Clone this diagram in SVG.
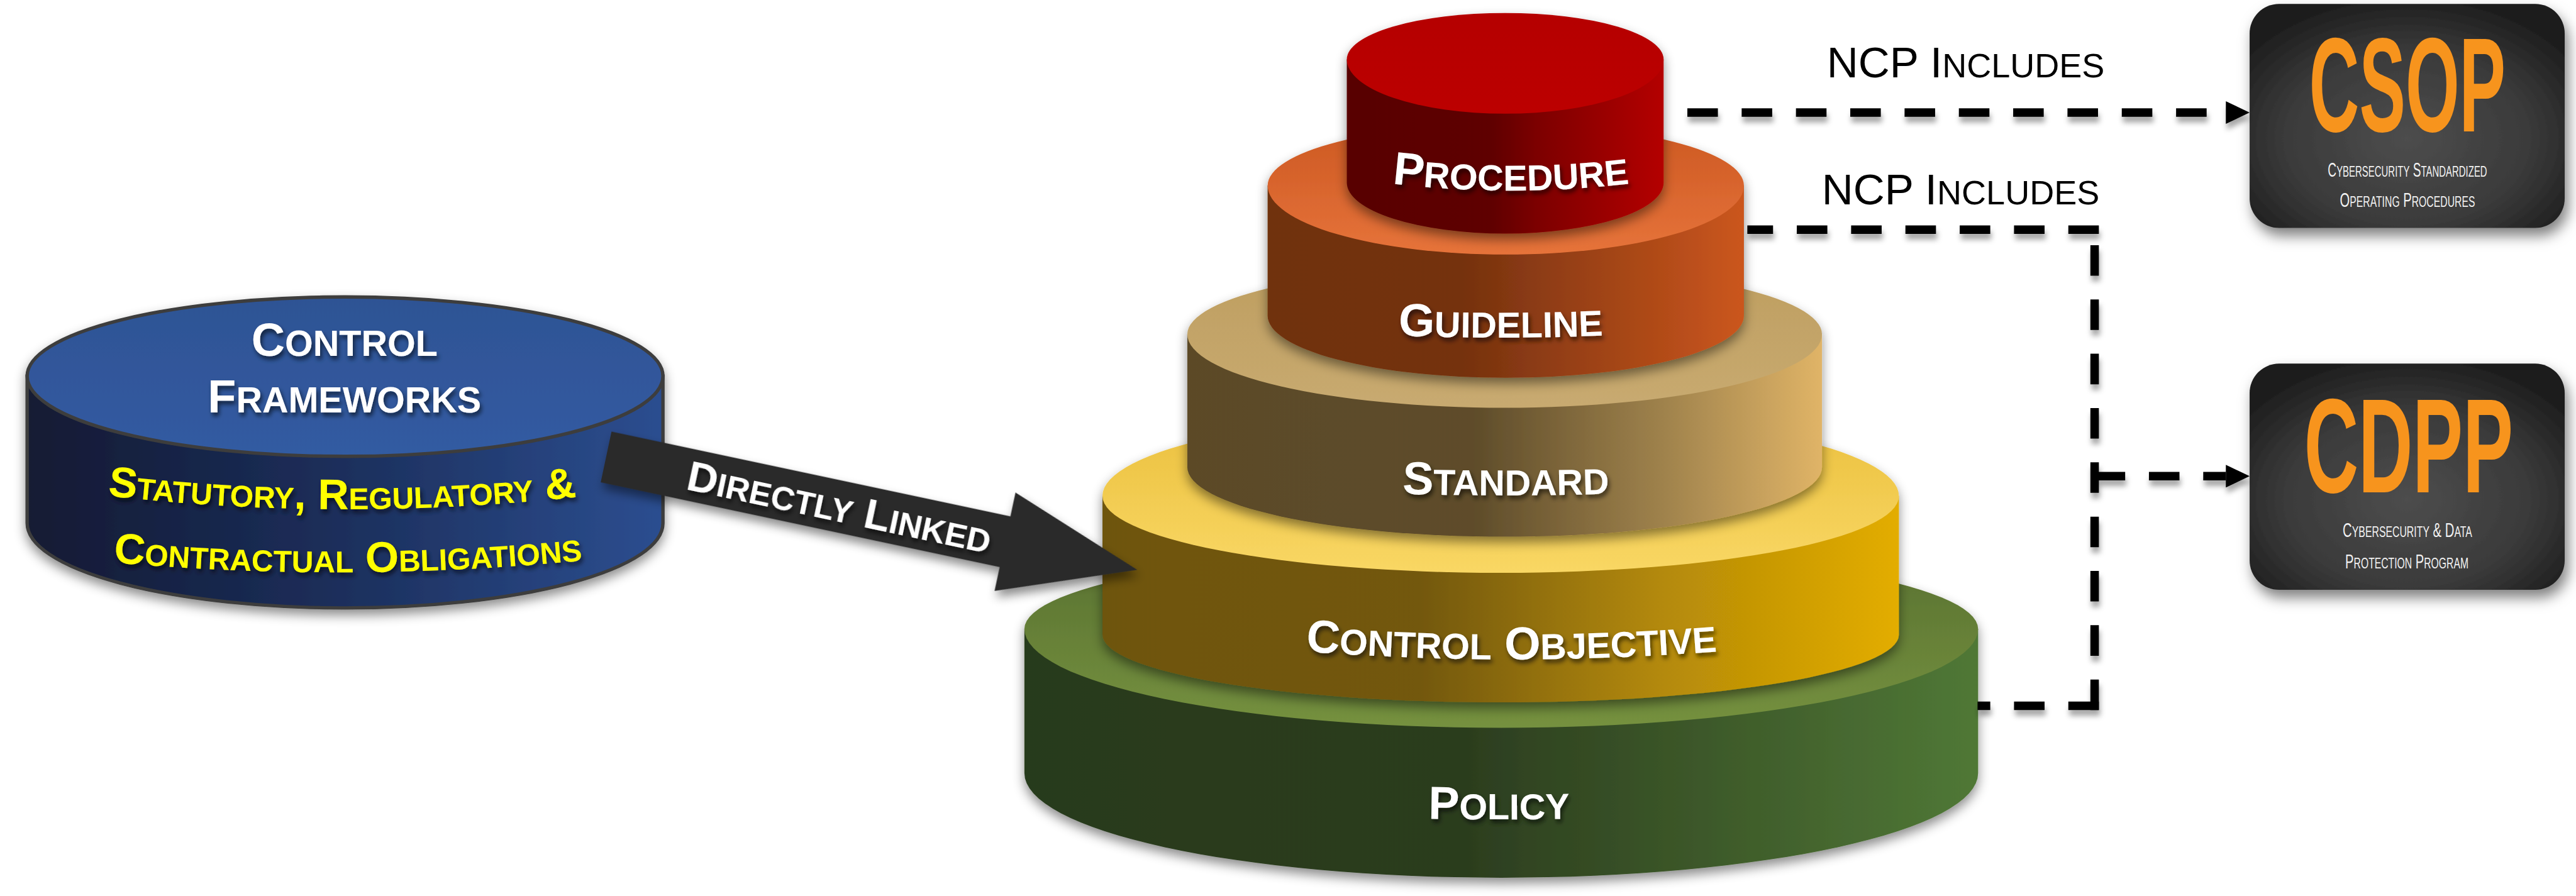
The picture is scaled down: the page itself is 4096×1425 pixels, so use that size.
<svg xmlns="http://www.w3.org/2000/svg" width="4096" height="1425" viewBox="0 0 4096 1425">
<style>
.lbl{font-family:"Liberation Sans",Arial,Helvetica,sans-serif;font-weight:bold;fill:#ffffff;}
.yel{fill:#FFFF00;font-variant:small-caps;}
.sc{font-size:78%;}
.ncp{font-family:"Liberation Sans",Arial,Helvetica,sans-serif;font-size:77px;fill:#000000;}
.big{font-family:"Liberation Sans",Arial,sans-serif;font-weight:bold;fill:#F7941D;font-size:237px;}
.sub{font-family:"Liberation Sans",Arial,sans-serif;fill:#F2F2F2;font-size:35px;}
.dash{fill:none;stroke:#000000;stroke-width:15;stroke-dasharray:54 42;}
</style>
<defs>
<linearGradient id="sideRed" x1="0" y1="0" x2="1" y2="0"><stop offset="0" stop-color="#580000"/><stop offset="0.45" stop-color="#5E0000"/><stop offset="0.6" stop-color="#7C0000"/><stop offset="1" stop-color="#B40000"/></linearGradient>
<linearGradient id="topRed" x1="0" y1="0" x2="0" y2="1"><stop offset="0" stop-color="#B50000"/><stop offset="1" stop-color="#BC0004"/></linearGradient>
<linearGradient id="sideOrg" x1="0" y1="0" x2="1" y2="0"><stop offset="0" stop-color="#70300E"/><stop offset="0.4" stop-color="#74310F"/><stop offset="1" stop-color="#CB561D"/></linearGradient>
<linearGradient id="topOrg" x1="0" y1="0" x2="0" y2="1"><stop offset="0" stop-color="#CC5822"/><stop offset="1" stop-color="#E6733A"/></linearGradient>
<linearGradient id="sideTan" x1="0" y1="0" x2="1" y2="0"><stop offset="0" stop-color="#5B4A28"/><stop offset="0.45" stop-color="#5E4C2A"/><stop offset="0.75" stop-color="#9F824C"/><stop offset="1" stop-color="#E0B467"/></linearGradient>
<linearGradient id="topTan" x1="0" y1="0" x2="0" y2="1"><stop offset="0" stop-color="#BE9E60"/><stop offset="1" stop-color="#C8AA70"/></linearGradient>
<linearGradient id="sideYel" x1="0" y1="0" x2="1" y2="0"><stop offset="0" stop-color="#6E540F"/><stop offset="0.4" stop-color="#735810"/><stop offset="0.7" stop-color="#B38908"/><stop offset="1" stop-color="#E3AD02"/></linearGradient>
<linearGradient id="topYel" x1="0" y1="0" x2="0" y2="1"><stop offset="0" stop-color="#EABF3C"/><stop offset="1" stop-color="#F9D764"/></linearGradient>
<linearGradient id="sideGrn" x1="0" y1="0" x2="1" y2="0"><stop offset="0" stop-color="#283A1D"/><stop offset="0.45" stop-color="#2B3C1E"/><stop offset="1" stop-color="#507836"/></linearGradient>
<linearGradient id="topGrn" x1="0" y1="0" x2="0" y2="1"><stop offset="0" stop-color="#587030"/><stop offset="1" stop-color="#75913F"/></linearGradient>
<linearGradient id="sideBlu" x1="0" y1="0" x2="1" y2="0"><stop offset="0" stop-color="#121A33"/><stop offset="0.5" stop-color="#1C2F5C"/><stop offset="1" stop-color="#2C4E90"/></linearGradient>
<linearGradient id="topBlu" x1="0" y1="0" x2="0" y2="1"><stop offset="0" stop-color="#2E5394"/><stop offset="1" stop-color="#335BA2"/></linearGradient>
<radialGradient id="boxG" cx="0.5" cy="0.6" r="0.65"><stop offset="0" stop-color="#4D4D4D"/><stop offset="0.6" stop-color="#3A3A3A"/><stop offset="1" stop-color="#1C1C1C"/></radialGradient>
<filter id="cs" x="-10%" y="-15%" width="120%" height="140%"><feDropShadow dx="0" dy="10" stdDeviation="10" flood-color="#000" flood-opacity="0.45"/></filter>
<filter id="ts" x="-10%" y="-40%" width="120%" height="180%"><feDropShadow dx="3" dy="6" stdDeviation="4" flood-color="#000" flood-opacity="0.6"/></filter>
<filter id="as" x="-10%" y="-30%" width="125%" height="160%"><feDropShadow dx="6" dy="10" stdDeviation="9" flood-color="#000" flood-opacity="0.45"/></filter>
<filter id="bs" x="-10%" y="-10%" width="125%" height="130%"><feDropShadow dx="6" dy="14" stdDeviation="12" flood-color="#000" flood-opacity="0.5"/></filter>
<filter id="ls" filterUnits="userSpaceOnUse" x="0" y="0" width="4554" height="1584"><feDropShadow dx="2" dy="10" stdDeviation="5" flood-color="#000" flood-opacity="0.35"/></filter>
<marker id="ah" markerUnits="userSpaceOnUse" markerWidth="42" markerHeight="40" refX="0" refY="20" orient="auto"><path d="M0,0 L42,20 L0,40 Z" fill="#000"/></marker>
<path id="yl1" d="M150,872 Q605,928 1060,874"/>
<path id="yl2" d="M150,990 Q615,1036 1080,986"/>
<path id="procPath" d="M2430,321 Q2671,353 2912,321"/>
<path id="guidePath" d="M2420,591 Q2653,603 2886,591"/>
<path id="stdPath" d="M2420,871 Q2662,881 2904,871"/>
<path id="coPath" d="M2260,1148 Q2672,1184 3084,1148"/>
<path id="polPath" d="M2450,1446 Q2650,1452 2850,1446"/>
</defs>
<rect x="0" y="0" width="4096" height="1425" fill="#ffffff"/>
<g transform="scale(0.89943)">
<g id="control-frameworks" filter="url(#cs)">
<path d="M48,665 V925 A562 150 0 0 0 1172,925 V665 Z" fill="url(#sideBlu)" stroke="#3D3D3D" stroke-width="6"/>
<path d="M48,665 A562 140 0 0 1 1172,665 A562 142 0 0 1 48,665 Z" fill="url(#topBlu)" stroke="#3D3D3D" stroke-width="6"/>
<text class="lbl" x="609" y="629" text-anchor="middle" font-size="82" filter="url(#ts)">C<tspan class="sc">ONTROL</tspan></text>
<text class="lbl" x="609" y="729" text-anchor="middle" font-size="82" filter="url(#ts)">F<tspan class="sc">RAMEWORKS</tspan></text>
<text class="lbl yel" font-size="76" filter="url(#ts)"><textPath href="#yl1" startOffset="50%" text-anchor="middle">Statutory, Regulatory &amp;</textPath></text>
<text class="lbl yel" font-size="76" filter="url(#ts)"><textPath href="#yl2" startOffset="50%" text-anchor="middle">Contractual Obligations</textPath></text>
</g>
<g id="policy" filter="url(#cs)">
<path d="M1811,1112 V1367 A843 185 0 0 0 3497,1367 V1112 Z" fill="url(#sideGrn)"/>
<path d="M1811,1112 A843 145 0 0 1 3497,1112 A843 175 0 0 1 1811,1112 Z" fill="url(#topGrn)"/>
<text class="lbl" font-size="82" filter="url(#ts)"><textPath href="#polPath" startOffset="50%" text-anchor="middle">P<tspan class="sc">OLICY</tspan></textPath></text>
</g>
<g id="control-objective" filter="url(#cs)">
<path d="M1949,877 V1122 A704 120 0 0 0 3357,1122 V877 Z" fill="url(#sideYel)"/>
<path d="M1949,877 A704 150 0 0 1 3357,877 A704 136 0 0 1 1949,877 Z" fill="url(#topYel)"/>
<text class="lbl" font-size="82" filter="url(#ts)"><textPath href="#coPath" startOffset="50%" text-anchor="middle">C<tspan class="sc">ONTROL</tspan> O<tspan class="sc">BJECTIVE</tspan></textPath></text>
</g>
<g id="standard" filter="url(#cs)">
<path d="M2099,591 V826 A561 123 0 0 0 3221,826 V591 Z" fill="url(#sideTan)"/>
<path d="M2099,591 A561 122 0 0 1 3221,591 A561 130 0 0 1 2099,591 Z" fill="url(#topTan)"/>
<text class="lbl" font-size="82" filter="url(#ts)"><textPath href="#stdPath" startOffset="50%" text-anchor="middle">S<tspan class="sc">TANDARD</tspan></textPath></text>
</g>
<g id="guideline" filter="url(#cs)">
<path d="M2241,328 V558 A421 110 0 0 0 3083,558 V328 Z" fill="url(#sideOrg)"/>
<path d="M2241,328 A421 109 0 0 1 3083,328 A421 122 0 0 1 2241,328 Z" fill="url(#topOrg)"/>
<text class="lbl" font-size="82" filter="url(#ts)"><textPath href="#guidePath" startOffset="50%" text-anchor="middle">G<tspan class="sc">UIDELINE</tspan></textPath></text>
</g>
<g id="procedure" filter="url(#cs)">
<path d="M2381,105 V323 A280 90 0 0 0 2941,323 V105 Z" fill="url(#sideRed)"/>
<path d="M2381,105 A280 82 0 0 1 2941,105 A280 96 0 0 1 2381,105 Z" fill="url(#topRed)"/>
<text class="lbl" font-size="82" filter="url(#ts)"><textPath href="#procPath" startOffset="50%" text-anchor="middle">P<tspan class="sc">ROCEDURE</tspan></textPath></text>
</g>
<g id="csop">
<rect x="3977" y="7" width="557" height="396" rx="52" ry="52" fill="url(#boxG)" filter="url(#bs)"/>
<text class="big" text-anchor="middle" transform="translate(4256 232) scale(0.517 1)">CSOP</text>
<text class="sub" text-anchor="middle" transform="translate(4256 312) scale(0.609 1)">C<tspan class="sc">YBERSECURITY</tspan> S<tspan class="sc">TANDARDIZED</tspan></text>
<text class="sub" text-anchor="middle" transform="translate(4256 366) scale(0.642 1)">O<tspan class="sc">PERATING</tspan> P<tspan class="sc">ROCEDURES</tspan></text>
</g>
<g id="cdpp">
<rect x="3977" y="643" width="557" height="400" rx="52" ry="52" fill="url(#boxG)" filter="url(#bs)"/>
<text class="big" text-anchor="middle" transform="translate(4258 871) scale(0.561 1)">CDPP</text>
<text class="sub" text-anchor="middle" transform="translate(4256 950) scale(0.645 1)">C<tspan class="sc">YBERSECURITY</tspan> &amp; D<tspan class="sc">ATA</tspan></text>
<text class="sub" text-anchor="middle" transform="translate(4255 1005) scale(0.641 1)">P<tspan class="sc">ROTECTION</tspan> P<tspan class="sc">ROGRAM</tspan></text>
</g>
<g id="connectors">
<g filter="url(#ls)">
<path class="dash" d="M2983,199 H3935" marker-end="url(#ah)"/>
<path class="dash" d="M3710.5,406 H3089"/>
<path class="dash" d="M3703,1255.5 V398.5"/>
<path class="dash" d="M3710.5,1248 H3496"/>
<path class="dash" d="M3703,842 H3935" marker-end="url(#ah)"/>
</g>
<text class="ncp" x="3475" y="137" text-anchor="middle">NCP I<tspan class="sc">NCLUDES</tspan></text>
<text class="ncp" x="3466" y="361" text-anchor="middle">NCP I<tspan class="sc">NCLUDES</tspan></text>
<g id="directly-linked" transform="translate(1071.5 808) rotate(12)">
<path d="M0,-46 H721 V-89 L960,0 L721,89 V46 H0 Z" fill="#2B2B2B" filter="url(#as)"/>
<text class="lbl" x="422" y="27" text-anchor="middle" font-size="75" filter="url(#ts)">D<tspan class="sc">IRECTLY</tspan> L<tspan class="sc">INKED</tspan></text>
</g>
</g>
</g>
</svg>
